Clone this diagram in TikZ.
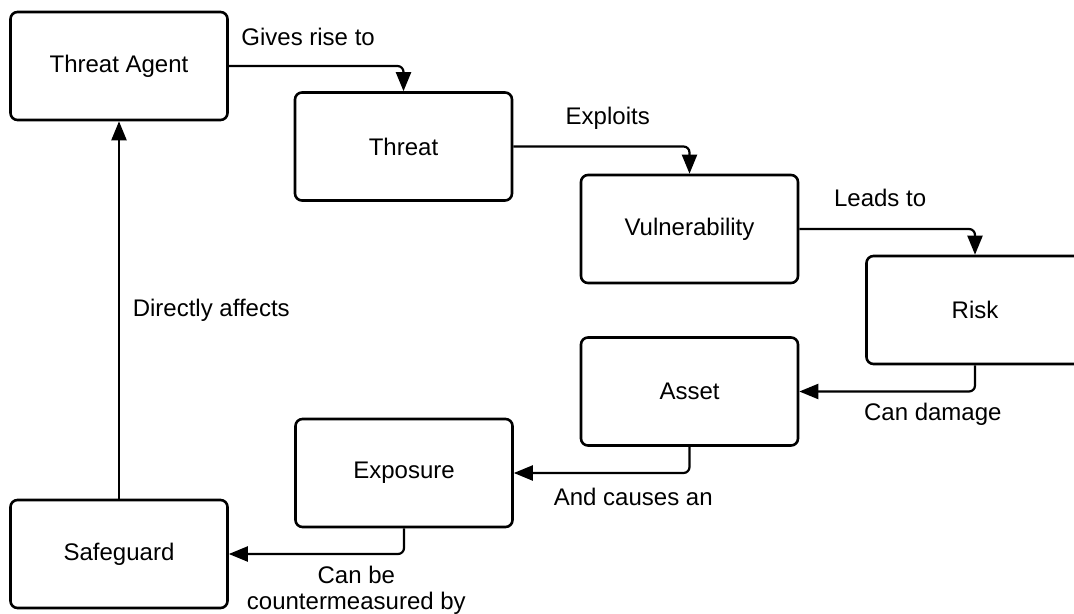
\documentclass[tikz,border=0pt]{standalone}
\usepackage{fontspec}
\setmainfont{Liberation Sans}
\usetikzlibrary{arrows.meta}

\begin{document}
\begin{tikzpicture}[x=0.5pt, y=-0.5pt, >={Triangle[length=9.5pt, width=7.5pt]},
  box/.style={draw, line width=1.3pt, rounded corners=3.5pt, minimum width=108.5pt, minimum height=54pt, font=\fontsize{12}{14}\selectfont},
  link/.style={->, line width=1.1pt, rounded corners=3pt},
  lbl/.style={font=\fontsize{12}{13}\selectfont, align=center}]
  \useasboundingbox (0,0) rectangle (1074,614);
  \node[box] (agent) at (119,66) {Threat Agent};
  \node[box] (threat) at (403.5,146.5) {Threat};
  \node[box] (vuln) at (689.5,229) {Vulnerability};
  \node[box] (risk) at (975,310) {Risk};
  \node[box] (asset) at (689.5,391.5) {Asset};
  \node[box] (expo) at (404,473) {Exposure};
  \node[box] (guard) at (119,554) {Safeguard};
  \draw[link] (agent.east) -| node[lbl, pos=0.227, yshift=14.5pt]{Gives rise to} (threat.north);
  \draw[link] (threat.east) -| node[lbl, pos=0.268, yshift=14.25pt]{Exploits} (vuln.north);
  \draw[link] (vuln.east) -| node[lbl, pos=0.23, yshift=15.5pt]{Leads to} (risk.north);
  \draw[link] (risk.south) |- node[lbl, pos=0.62, yshift=-11.5pt]{Can damage} (asset.east);
  \draw[link] (asset.south) |- node[lbl, pos=0.66, yshift=-12pt]{And causes an} (expo.east);
  \draw[link] (expo.south) |- node[lbl, pos=0.636, yshift=-18pt]{Can be\\countermeasured by} (guard.east);
  \draw[link] (guard.north) -- node[lbl, right=3pt]{Directly affects} (agent.south);
\end{tikzpicture}
\end{document}
